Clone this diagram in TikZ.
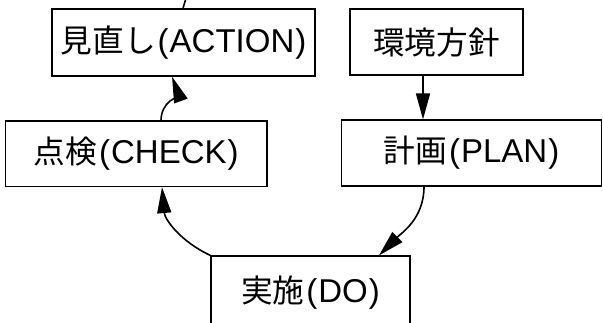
\documentclass[tikz,border=0pt]{standalone}
\usepackage{fontspec}
\setmainfont{Liberation Sans}
\newfontfamily\jp[Scale=0.96]{Noto Sans CJK JP}
\usetikzlibrary{arrows.meta}
\newcommand{\lbl}[2]{{\jp #1}\hspace{2pt}(\hspace{1pt}#2\hspace{1pt})}
\begin{document}
\begin{tikzpicture}[x=1pt,y=-1pt,
  box/.style={draw=black, line width=1.2pt, inner sep=0pt, font=\fontsize{33}{36}\selectfont, text=black},
  conn/.style={line width=1.6pt, -{Triangle[length=26pt,width=14pt]}}]
\useasboundingbox (0,0) rectangle (603,322);
\node[box, minimum width=263pt, minimum height=67pt] (act) at (183.5,42.5) {\lbl{見直し}{ACTION}};
\node[box, minimum width=173pt, minimum height=66pt] (env) at (436.5,42) {{\jp 環境方針}};
\node[box, minimum width=261.5pt, minimum height=65.5pt] (chk) at (136.25,153.75) {\lbl{点検}{CHECK}};
\node[box, minimum width=260pt, minimum height=66pt] (plan) at (471.5,153) {\lbl{計画}{PLAN}};
\node[box, minimum width=199pt, minimum height=74pt] (do) at (310.5,293) {\lbl{実施}{DO}};
\coordinate (top) at (186,-2);
% connectors
\draw[conn] (env.south -| 423,0) -- (plan.north -| 423,0);
\draw[conn] (plan.south -| 424,0) to[out=-90,in=45] (do.north -| 379,0);
\draw[conn] (do.north west) to[out=155,in=-85] (chk.south -| 162,0);
\draw[conn] (chk.north -| 161,0) to[out=90,in=-70] (act.south -| 172,0);
\draw[line width=1.6pt] (act.north -| 183,0) -- (top);
\end{tikzpicture}
\end{document}
